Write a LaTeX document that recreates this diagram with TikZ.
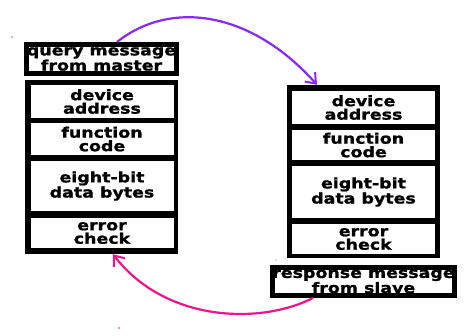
\documentclass[tikz,border=0pt]{standalone}
\usepackage{fontspec}
\newfontfamily\framefont[FakeStretch=1.2,FakeBold=1.2]{DejaVu Sans Bold}
\usetikzlibrary{arrows.meta}

\begin{document}
\begin{tikzpicture}[x=1pt,y=-1pt,
    stack/.style={fill=black, inner sep=0pt, minimum width=153pt},
    cell/.style={fill=white, inner sep=0pt, minimum width=143pt, align=center,
        font=\framefont\fontsize{14.5}{13.5}\selectfont},
    header/.style={draw=black, line width=5pt, fill=white, inner sep=0pt,
        minimum width=148pt, minimum height=29pt, align=center,
        font=\framefont\fontsize{14.5}{13.5}\selectfont},
    flow/.style={line width=2.2pt, -{Straight Barb[length=9pt,width=14pt,line width=2pt]}}]
    \definecolor{myquery}{RGB}{136,40,240}
    \definecolor{myreply}{RGB}{240,20,140}

    \useasboundingbox (0,0) rectangle (474,336);

    % master side
    \node[header] (qhead) at (101.5,59) {query message\\from master};
    \node[stack, minimum height=174pt] (lstack) at (101.5,167) {};
    \node[cell, minimum height=33pt] (ldev) at (102,101.5) {device\\address};
    \node[cell, minimum height=32pt] (lfun) at (102,139) {function\\code};
    \node[cell, minimum height=50pt] (ldat) at (102,186) {eight-bit\\data bytes};
    \node[cell, minimum height=30pt] (lerr) at (102,233) {error\\check};

    % slave side
    \node[stack, minimum height=173pt] (rstack) at (363.5,171.5) {};
    \node[cell, minimum height=33pt] (rdev) at (363.5,107.5) {device\\address};
    \node[cell, minimum height=30pt] (rfun) at (363.5,145) {function\\code};
    \node[cell, minimum height=52pt] (rdat) at (363.5,192) {eight-bit\\data bytes};
    \node[cell, minimum height=30pt] (rerr) at (363.5,239) {error\\check};
    \node[header, minimum height=28pt] (rhead) at (363.5,281.5) {response message\\from slave};

    % request and reply
    \draw[flow, myquery] ([xshift=15.5pt]qhead.north) .. controls (170,0) and (250,10) .. ([xshift=-46.5pt]rstack.north);
    \draw[flow, myreply] ([xshift=-50.5pt]rhead.south) .. controls (260,325) and (165,322) .. ([xshift=11.5pt]lstack.south);

    \fill[gray] (12,37) circle (0.8pt);
    \fill[gray] (276,260) circle (0.6pt);
    \fill[myreply] (119,328) circle (0.8pt);
\end{tikzpicture}
\end{document}
